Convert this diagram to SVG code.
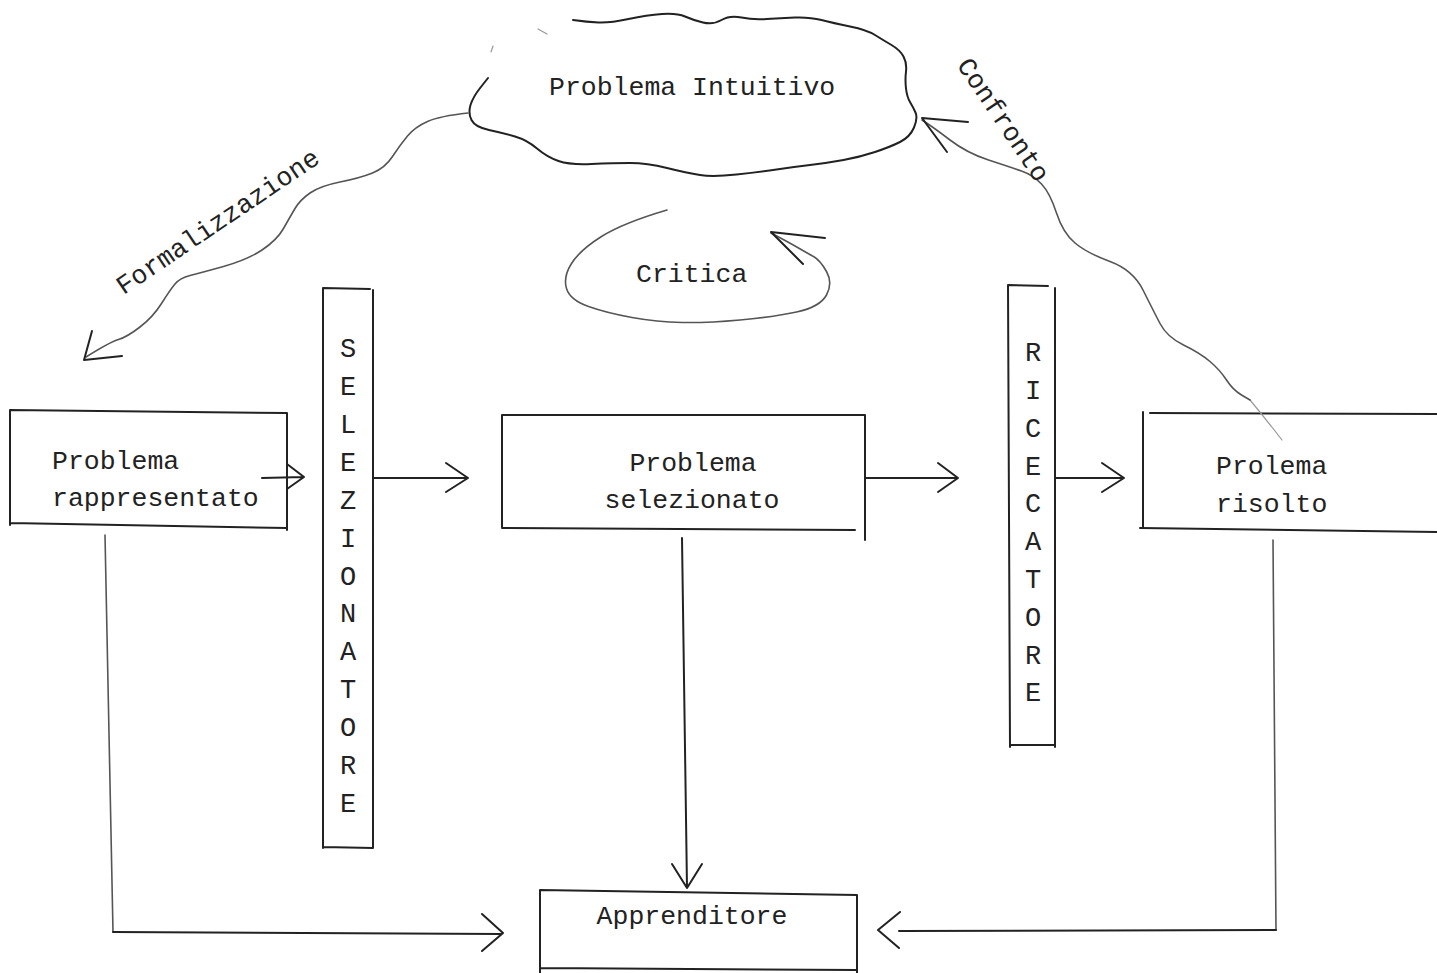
<svg xmlns="http://www.w3.org/2000/svg" width="1437" height="973" viewBox="0 0 1437 973">
<style>
.t{font-family:"Liberation Mono","DejaVu Sans Mono",monospace;font-size:26.5px;fill:#222}
.v{font-family:"Liberation Mono","DejaVu Sans Mono",monospace;font-size:27px;fill:#222;text-anchor:middle}
.ln{fill:none;stroke:#222;stroke-width:2;stroke-linecap:round;stroke-linejoin:round}
.lt{fill:none;stroke:#555;stroke-width:1.6;stroke-linecap:round;stroke-linejoin:round}
.fa{fill:none;stroke:#999;stroke-width:1.2;stroke-linecap:round}
</style>
<rect width="1437" height="973" fill="#fff"/>

<g id="cloud">
<path class="ln" d="M573,20 Q587,22 598.5,22.5 Q610,23 628.5,19 Q647,15 662,14 Q677,13 685,16.5 Q693,20 703,22.5 Q713,25 721.5,20 Q730,15 741.5,17.5 Q753,20 766.5,19 Q780,18 795,17.5 Q810,17 821.5,20 Q833,23 850,26.5 Q867,30 875,35 Q883,40 891.5,45 Q900,50 903.5,56.5 Q907,63 906,71.5 Q905,80 906,88.5 Q907,97 910,102 Q913,107 915.5,112.5 Q918,118 914,127.5 Q910,137 900,142 Q890,147 875,152 Q860,157 843.5,160 Q827,163 810,165 Q793,167 776.5,169.5 Q760,172 736.5,174.5 Q713,177 700,175 Q687,173 667,168 Q647,163 630,163 Q613,163 591.5,164 Q570,165 558.5,161 Q547,157 537,148.5 Q527,140 515,136.5 Q503,133 489,130 Q475,127 471.5,120 Q468,113 470.5,105 Q473,97 480.5,87.5 L488,78"/>
<path class="fa" d="M538,29 L547,34 M493,46 L491,52"/>
<text class="t" x="549" y="95">Problema Intuitivo</text>
</g>

<g id="critica">
<path class="lt" d="M667,210 Q623,223 601.5,236.5 Q580,250 571.5,263.5 Q563,277 566.5,288.5 Q570,300 588.5,306.5 Q607,313 632,317.5 Q657,322 682,322.5 Q707,323 740,320 Q773,317 796.5,312 Q820,307 826.5,295 Q833,283 826.5,271.5 Q820,260 813.5,256.5 Q807,253 798.5,248 Q790,243 771,233"/>
<path class="ln" d="M825,238 L771,232 L803,264"/>
<text class="t" x="636" y="282">Critica</text>
</g>

<g id="problema-rappresentato">
<path class="ln" d="M10,410 L287,413 M10,410 L10,525 M10,523 L287,528 M287,413 L287,530"/>
<text class="t" x="52" y="469">Problema</text>
<text class="t" x="52" y="506">rappresentato</text>
</g>

<g id="selezionatore">
<path class="ln" d="M323,288 L370,289 M323,288 L323,848 M373,290 L373,848 M323,847 L373,848"/>
<text class="v" x="348" y="357">S</text>
<text class="v" x="348" y="395">E</text>
<text class="v" x="348" y="433">L</text>
<text class="v" x="348" y="471">E</text>
<text class="v" x="348" y="509">Z</text>
<text class="v" x="348" y="547">I</text>
<text class="v" x="348" y="585">O</text>
<text class="v" x="348" y="622">N</text>
<text class="v" x="348" y="660">A</text>
<text class="v" x="348" y="698">T</text>
<text class="v" x="348" y="736">O</text>
<text class="v" x="348" y="774">R</text>
<text class="v" x="348" y="812">E</text>
</g>

<g id="problema-selezionato">
<path class="ln" d="M502,415 L865,415 M502,415 L502,527 M502,528 L855,530 M865,415 L865,540"/>
<text class="t" x="693" y="471" text-anchor="middle">Problema</text>
<text class="t" x="692" y="508" text-anchor="middle">selezionato</text>
</g>

<g id="ricercatore">
<path class="ln" d="M1008,285 L1048,286 M1008,285 L1010,747 M1055,288 L1055,747 M1010,745 L1055,745"/>
<text class="v" x="1033" y="361">R</text>
<text class="v" x="1033" y="399">I</text>
<text class="v" x="1033" y="437">C</text>
<text class="v" x="1033" y="475">E</text>
<text class="v" x="1033" y="512">C</text>
<text class="v" x="1033" y="550">A</text>
<text class="v" x="1033" y="588">T</text>
<text class="v" x="1033" y="626">O</text>
<text class="v" x="1033" y="664">R</text>
<text class="v" x="1033" y="701">E</text>
</g>

<g id="problema-risolto">
<path class="ln" d="M1150,413 L1437,414 M1143,412 L1143,528 M1140,528 L1437,532"/>
<text class="t" x="1216" y="474">Prolema</text>
<text class="t" x="1216" y="512">risolto</text>
</g>

<g id="apprenditore">
<path class="ln" d="M540,890 L857,895 M540,890 L540,973 M857,895 L857,973 M540,968 L857,970"/>
<text class="t" x="692" y="924" text-anchor="middle">Apprenditore</text>
</g>

<g id="connectors">
<path class="lt" d="M468,113 Q440,116 427.5,121.5 Q415,127 407.5,136 Q400,145 392.5,156.5 Q385,168 372.5,173 Q360,178 340,182 Q320,186 310,193 Q300,200 295,208.5 Q290,217 283.5,228.5 Q277,240 262,250 Q247,260 223.5,266.5 Q200,273 190,275.5 Q180,278 175,284 Q170,290 161.5,303.5 Q153,317 140,327 Q127,337 118.5,339.5 Q110,342 86,357"/>
<path class="ln" d="M92,331 L84,360 L122,356"/>
<text class="t" x="218" y="230" text-anchor="middle" transform="rotate(-34 218 222)">Formalizzazione</text>

<path class="fa" d="M1282,440 Q1265,418 1250,400"/>
<path class="lt" d="M1250,400 Q1241.5,395 1241.5,395 Q1233,390 1226.5,380 Q1220,370 1210,361.5 Q1200,353 1183.5,345 Q1167,337 1160,323.5 Q1153,310 1143,290 Q1133,270 1110,261.5 Q1087,253 1075,243 Q1063,233 1056.5,213 Q1050,193 1041.5,184 Q1033,175 1021.5,171 Q1010,167 988.5,160 Q967,153 950,140 Q933,127 922,120"/>
<path class="ln" d="M968,122 L922,118 L947,152"/>
<text class="t" x="1003" y="128" text-anchor="middle" transform="rotate(56 1003 120)">Confronto</text>

<path class="ln" d="M262,478 L304,477 M287,464 L304,477 L287,489"/>
<path class="ln" d="M373,478 L468,478 M446,463 L468,478 L446,492"/>
<path class="ln" d="M865,478 L958,478 M938,463 L958,478 L938,492"/>
<path class="ln" d="M1055,478 L1124,478 M1102,463 L1124,478 L1102,492"/>

<path class="ln" d="M682,538 L687,888 M672,864 L687,888 L702,864"/>

<path class="lt" d="M105,535 L113,932"/>
<path class="ln" d="M113,932 L501,934 M482,914 L503,933 L482,951"/>

<path class="lt" d="M1273,540 L1276,930"/>
<path class="ln" d="M1276,930 L899,931 M900,912 L878,930 L899,948"/>
</g>
</svg>
